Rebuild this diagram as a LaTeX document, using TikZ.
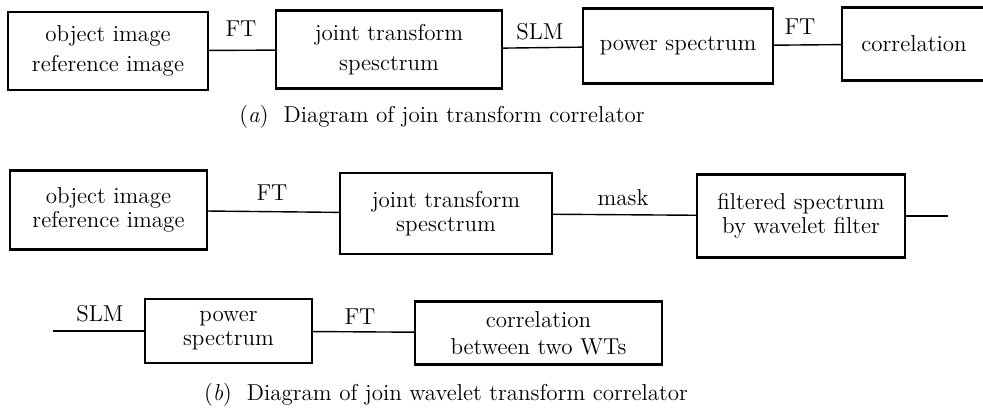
\documentclass[tikz,border=0pt]{standalone}
\begin{document}
\begin{tikzpicture}[x=0.5pt,y=-0.5pt,
  every node/.style={font=\fontsize{11.5}{12}\selectfont},
  blk/.style={draw,line width=1.1pt,align=center,inner sep=0pt},
  wide/.style={font=\fontsize{11.5}{15}\selectfont},
  lnk/.style={line width=0.7pt}]
\useasboundingbox (0,0) rectangle (983,415);
% (a) joint transform correlator
\node[blk,wide,minimum width=100pt,minimum height=39pt] (oa) at (108,51) {object image\\reference image};
\node[blk,wide,minimum width=113pt,minimum height=39pt] (ja) at (389,49.5) {joint transform\\spesctrum};
\node[blk,minimum width=95pt,minimum height=37.5pt] (pa) at (678,46) {power spectrum};
\node[blk,minimum width=72pt,minimum height=36.5pt] (ca) at (914,44) {correlation};
\draw[lnk] (oa) -- (ja);
\draw[lnk] (ja) -- (pa);
\draw[lnk] (pa) -- (ca);
\node (fta) at (241,29) {FT};
\node (slma) at (540,32) {SLM};
\node (ftb) at (800,27) {FT};
\node (capa) at (442,117) {(\textit{a})\ \ Diagram of join transform correlator};
% (b) joint wavelet transform correlator
\node[blk,minimum width=98.5pt,minimum height=39.5pt] (ob) at (108.5,210) {object image\\reference image};
\node[blk,minimum width=106pt,minimum height=40.5pt] (jb) at (446,213.5) {joint transform\\spesctrum};
\node[blk,minimum width=104pt,minimum height=41.5pt] (fb) at (801,216) {filtered spectrum\\by wavelet filter};
\coordinate (fbout) at (948,216);
\draw[lnk] (ob) -- (jb);
\draw[lnk] (jb) -- (fb);
\draw[lnk] (fb) -- (fbout);
\node (ftc) at (272,193) {FT};
\node (mask) at (623,198) {mask};
\coordinate (pcin) at (53,331);
\node[blk,minimum width=83.5pt,minimum height=32pt] (pc) at (228.5,331) {power\\spectrum};
\node[blk,font=\fontsize{11.5}{13.5}\selectfont,minimum width=123.5pt,minimum height=31.5pt] (cc) at (538.5,333) {correlation\\between two WTs};
\draw[lnk] (pcin) -- (pc);
\draw[lnk] (pc) -- (cc);
\node (slmc) at (100,314) {SLM};
\node (ftd) at (360,317) {FT};
\node (capb) at (446,395) {(\textit{b})\ \ Diagram of join wavelet transform correlator};
\end{tikzpicture}
\end{document}
